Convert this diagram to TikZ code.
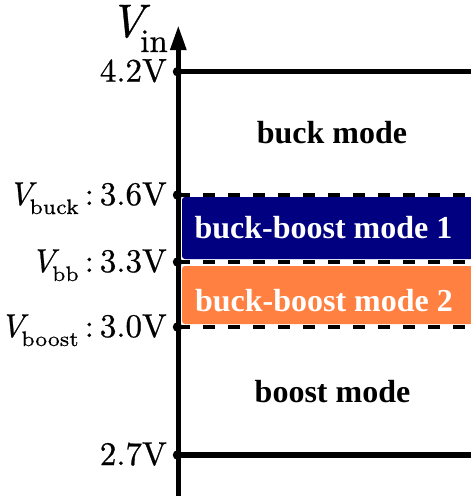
\documentclass[tikz,border=0pt]{standalone}
\usepackage{fontspec}
\setmainfont{lmroman10-regular.otf}[FakeBold=0.7, ItalicFont=lmroman10-italic.otf, ItalicFeatures={FakeBold=0.7}]
\newfontfamily\lmseven{lmroman7-regular.otf}[FakeBold=0.5]
\newfontfamily\tnr{Liberation Serif}
\usetikzlibrary{arrows.meta}
\definecolor{bbnavy}{RGB}{0,0,128}
\definecolor{bborange}{RGB}{255,128,64}
\newcommand\lblv[1]{{\itshape V}\kern-3pt\raisebox{-9pt}{\fontsize{21}{26}\selectfont\lmseven #1}}
\newcommand\lblcolon{\hspace{6pt}:\hspace{6pt}}
\begin{document}
\begin{tikzpicture}[x=1pt,y=-1pt,
  lbl/.style={font=\fontsize{33}{40}\selectfont, inner sep=0pt},
  modetxt/.style={font=\fontsize{32}{38}\selectfont\tnr\bfseries, inner sep=0pt},
  solidline/.style={line width=5.5pt},
  dashline/.style={line width=4.5pt, dash pattern=on 12pt off 13pt},
  dotmark/.style={circle, fill=black, inner sep=0pt, minimum size=9.5pt},
  axisline/.style={line width=5.5pt, -{Triangle[length=25pt,width=15pt]}},
  modebox/.style={rounded corners=3pt}]
\useasboundingbox (0,0) rectangle (471,496);
\clip (0,0) rectangle (471,496);

% mode bands
\fill[bbnavy, modebox] (182,197) rectangle (480,259);
\fill[bborange, modebox] (182,266) rectangle (480,324);

% end coordinates
\coordinate (a42) at (178.3,71.7);
\coordinate (a36) at (178.3,195);
\coordinate (a33) at (178.3,262);
\coordinate (a30) at (178.3,327);
\coordinate (a27) at (178.3,455);
\coordinate (e42) at (478,71.7);
\coordinate (e36) at (478,195);
\coordinate (e33) at (478,262);
\coordinate (e30) at (478,327);
\coordinate (e27) at (478,455);
\coordinate (axb) at (178.3,500);
\coordinate (axt) at (178.3,25);

% level lines
\draw[dashline] (a36) -- (e36);
\draw[dashline] (a33) -- (e33);
\draw[dashline] (a30) -- (e30);
\draw[solidline] (a42) -- (e42);
\draw[solidline] (a27) -- (e27);

% axis
\draw[axisline] (axb) -- (axt);

% dots
\node[dotmark] (d42) at (177.5,71.7) {};
\node[dotmark] (d36) at (177.5,195) {};
\node[dotmark] (d33) at (177.5,262) {};
\node[dotmark] (d30) at (177.5,327) {};
\node[dotmark] (d27) at (177.5,455) {};

% labels
\node[anchor=base east, inner sep=0pt, font=\fontsize{47}{56}\selectfont] (vin) at (168,37) {{\itshape V}\kern-4pt\raisebox{-15pt}{\fontsize{33}{40}\selectfont in}};
\node[lbl, anchor=base east] (l42) at (167,81.7) {4.2V};
\node[lbl, anchor=base east] (l36) at (167,205) {\lblv{buck}\lblcolon 3.6V};
\node[lbl, anchor=base east] (l33) at (167,272) {\lblv{bb}\lblcolon 3.3V};
\node[lbl, anchor=base east] (l30) at (167,337) {\lblv{boost}\lblcolon 3.0V};
\node[lbl, anchor=base east] (l27) at (167,465) {2.7V};

% mode texts
\node[modetxt, anchor=base] (buck) at (332,143.3) {buck mode};
\node[modetxt, anchor=base, text=white] (bb1) at (323.5,238) {buck-boost mode 1};
\node[modetxt, anchor=base, text=white] (bb2) at (324,311.7) {buck-boost mode 2};
\node[modetxt, anchor=base] (boost) at (332.5,402.7) {boost mode};
\end{tikzpicture}
\end{document}
